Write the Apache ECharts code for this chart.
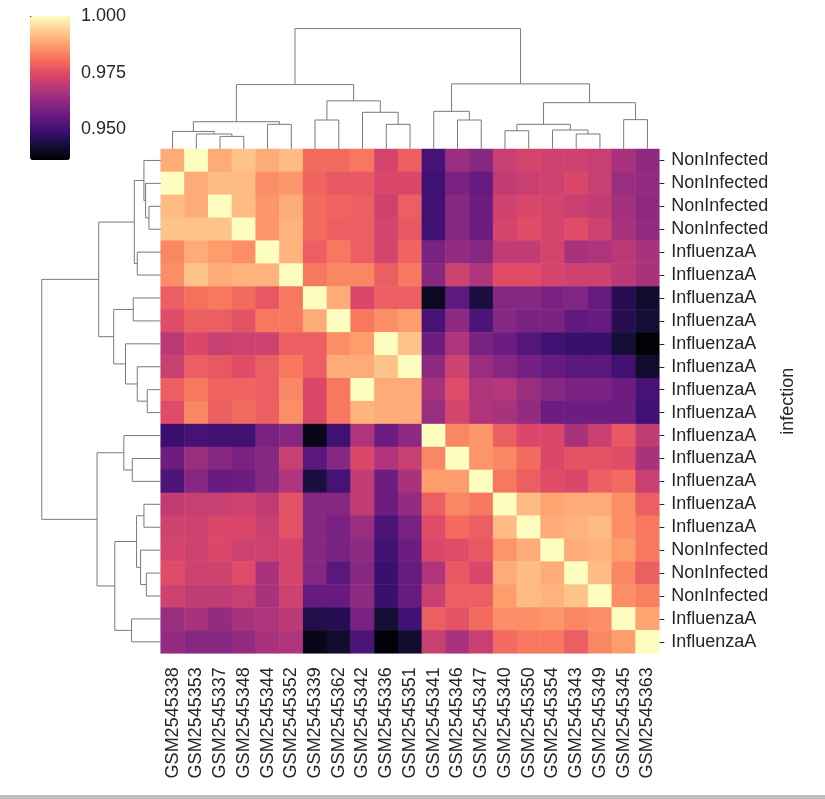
<!DOCTYPE html>
<html><head><meta charset="utf-8">
<script src="https://cdn.jsdelivr.net/npm/echarts@6/dist/echarts.min.js"></script>
<style>html,body{margin:0;padding:0;background:#fff}#c{width:825px;height:799px}</style>
</head><body><div id="c"></div>
<script>
// ---- data ----
const colLabels = ['GSM2545338','GSM2545353','GSM2545337','GSM2545348','GSM2545344','GSM2545352',
  'GSM2545339','GSM2545362','GSM2545342','GSM2545336','GSM2545351','GSM2545341','GSM2545346',
  'GSM2545347','GSM2545340','GSM2545350','GSM2545354','GSM2545343','GSM2545349','GSM2545345','GSM2545363'];
const rowLabels = ['NonInfected','NonInfected','NonInfected','NonInfected',
  'InfluenzaA','InfluenzaA','InfluenzaA','InfluenzaA','InfluenzaA','InfluenzaA','InfluenzaA',
  'InfluenzaA','InfluenzaA','InfluenzaA','InfluenzaA','InfluenzaA','InfluenzaA',
  'NonInfected','NonInfected','NonInfected','InfluenzaA','InfluenzaA'];
const corr = [
 [.989,1.000,.989,.992,.989,.991,.980,.980,.982,.973,.978,.951,.964,.961,.971,.973,.972,.972,.971,.966,.962],
 [1.000,.989,.991,.991,.985,.986,.979,.977,.977,.974,.974,.950,.959,.956,.970,.971,.972,.974,.971,.964,.963],
 [.991,.989,1.000,.991,.986,.989,.980,.979,.978,.972,.978,.950,.961,.957,.972,.974,.973,.971,.970,.965,.962],
 [.992,.992,.992,1.000,.986,.990,.980,.978,.978,.973,.977,.950,.961,.957,.973,.975,.973,.975,.972,.966,.963],
 [.984,.989,.987,.985,1.000,.990,.978,.982,.978,.973,.979,.959,.963,.961,.970,.970,.973,.966,.967,.969,.966],
 [.985,.992,.989,.990,.990,1.000,.982,.984,.984,.978,.982,.961,.972,.967,.975,.975,.973,.972,.972,.969,.966],
 [.978,.981,.982,.980,.977,.982,1.000,.989,.974,.978,.978,.940,.955,.944,.961,.961,.959,.960,.956,.946,.942],
 [.975,.978,.978,.976,.982,.982,.989,1.000,.982,.985,.987,.951,.962,.952,.961,.959,.959,.955,.956,.946,.943],
 [.969,.974,.971,.972,.972,.978,.978,.985,.987,1.000,.992,.957,.967,.959,.957,.953,.950,.949,.949,.943,.937],
 [.971,.978,.977,.975,.978,.982,.978,.989,.989,.992,1.000,.962,.972,.964,.961,.958,.956,.954,.954,.950,.942],
 [.978,.982,.979,.979,.978,.984,.974,.982,1.000,.989,.989,.966,.975,.967,.968,.964,.961,.959,.959,.957,.951],
 [.975,.984,.978,.980,.978,.985,.974,.982,.990,.989,.989,.964,.973,.967,.966,.963,.957,.957,.957,.957,.950],
 [.949,.951,.950,.950,.959,.961,.939,.950,.967,.957,.962,1.000,.984,.986,.978,.974,.974,.966,.971,.977,.970],
 [.957,.964,.961,.959,.961,.971,.954,.961,.974,.967,.971,.984,1.000,.986,.984,.980,.974,.976,.976,.975,.966],
 [.952,.961,.956,.957,.961,.967,.944,.951,.970,.957,.966,.987,.987,1.000,.982,.978,.975,.974,.978,.980,.971],
 [.970,.971,.971,.972,.970,.976,.961,.961,.970,.957,.963,.978,.984,.982,1.000,.991,.988,.989,.989,.985,.978],
 [.972,.972,.974,.974,.971,.976,.961,.959,.964,.952,.959,.975,.980,.978,.991,1.000,.989,.990,.991,.985,.982],
 [.973,.972,.974,.972,.972,.973,.961,.959,.962,.950,.957,.974,.975,.977,.986,.989,1.000,.989,.990,.987,.982],
 [.975,.972,.972,.975,.966,.973,.961,.954,.961,.949,.956,.967,.977,.974,.989,.991,.989,1.000,.991,.984,.978],
 [.972,.970,.970,.971,.966,.972,.956,.956,.962,.949,.956,.971,.978,.978,.987,.991,.990,.992,1.000,.985,.983],
 [.964,.966,.963,.966,.967,.969,.945,.946,.959,.943,.950,.978,.976,.980,.985,.985,.986,.984,.985,1.000,.988],
 [.963,.961,.961,.963,.966,.967,.939,.942,.952,.937,.942,.971,.966,.971,.980,.982,.982,.978,.984,.987,1.000]
];
const vMin = 0.9365, vMax = 1.0;
const cbarTicks = [0.950, 0.975, 1.000];
// linkage: [childA, childB, height]; children < n are leaves (display order), n+k is k-th merge
const colLinkage = [
 [2,3,0.103],[1,21,0.123],[0,22,0.144],[4,5,0.203],[23,24,0.225],[6,7,0.239],[9,10,0.203],
 [8,27,0.303],[26,28,0.398],[25,29,0.533],[12,13,0.239],[11,31,0.311],[17,18,0.123],[16,33,0.156],
 [14,15,0.150],[35,34,0.203],[19,20,0.242],[36,37,0.383],[32,38,0.539],[30,39,0.998]
];
const rowLinkage = [
 [2,3,0.099],[1,22,0.127],[0,23,0.141],[4,5,0.197],[24,25,0.222],[6,7,0.231],[10,11,0.113],
 [9,28,0.197],[8,29,0.296],[27,30,0.395],[26,31,0.521],[13,14,0.239],[12,33,0.310],[15,16,0.141],
 [18,19,0.121],[17,36,0.169],[35,37,0.203],[20,21,0.245],[38,39,0.386],[34,40,0.535],[32,41,1.0]
];
const magma = ['#000004','#140e36','#3b0f70','#641a80','#8c2981','#b73779','#de4968','#f7705c','#fe9f6d','#fecf92','#fcfdbf'];

// ---- build ----
function dendroSegments(linkage, n, vertical) {
  const pos = [], hgt = [];
  for (let i = 0; i < n; i++) { pos.push(i + 0.5); hgt.push(0); }
  const segs = [];
  linkage.forEach(([a, b, h]) => {
    const pts = [[pos[a], hgt[a]], [pos[a], h], [pos[b], h], [pos[b], hgt[b]]];
    segs.push({ coords: vertical ? pts : pts.map(p => [p[1], p[0]]) });
    pos.push((pos[a] + pos[b]) / 2); hgt.push(h);
  });
  return segs;
}
const heatData = [];
corr.forEach((row, r) => row.forEach((v, c) => heatData.push([c, r, v])));

const FONT = 'Liberation Sans, Arial, sans-serif';
const TXT = '#262626';
const FS = 18;
const chart = echarts.init(document.getElementById('c'), null, { renderer: 'canvas' });
chart.setOption({
  animation: false,
  backgroundColor: '#fff',
  textStyle: { fontFamily: FONT },
  grid: [
    { left: 160.7, top: 149, width: 498.6, height: 504.3 },
    { left: 160.7, top: 22.3, width: 498.6, height: 126.5 },
    { left: 35.8, top: 149, width: 124.9, height: 504.3 },
    { left: 30, top: 16, width: 40, height: 144 }
  ],
  xAxis: [
    { gridIndex: 0, type: 'category', data: colLabels, position: 'bottom',
      axisLine: { show: false }, axisTick: { show: false }, splitLine: { show: false },
      axisLabel: { rotate: 90, interval: 0, fontSize: FS, color: TXT, margin: 14, fontFamily: FONT } },
    { gridIndex: 1, type: 'value', min: 0, max: colLabels.length, show: false },
    { gridIndex: 2, type: 'value', min: 0, max: 1.05, inverse: true, show: false },
    { gridIndex: 3, type: 'value', min: 0, max: 1, show: false }
  ],
  yAxis: [
    { gridIndex: 0, type: 'category', data: rowLabels.map((_, i) => String(i)), inverse: true, position: 'right',
      axisLine: { show: false }, splitLine: { show: false },
      axisTick: { show: true, alignWithLabel: true, length: 5, lineStyle: { color: TXT, width: 1 } },
      axisLabel: { interval: 0, formatter: v => rowLabels[+v], fontSize: FS, color: TXT, margin: 12, fontFamily: FONT },
      name: 'infection', nameLocation: 'middle', nameRotate: 90, nameGap: 115,
      nameTextStyle: { fontSize: FS, color: TXT, fontFamily: FONT } },
    { gridIndex: 1, type: 'value', min: 0, max: 1.05, show: false },
    { gridIndex: 2, type: 'value', min: 0, max: rowLabels.length, inverse: true, show: false },
    { gridIndex: 3, type: 'value', min: vMin, max: vMax, position: 'right',
      axisLine: { show: false }, splitLine: { show: false },
      axisTick: { show: true, length: 5, customValues: cbarTicks, lineStyle: { color: TXT, width: 1 } },
      axisLabel: { customValues: cbarTicks, formatter: v => v.toFixed(3), fontSize: FS, color: TXT, margin: 11, fontFamily: FONT } }
  ],
  visualMap: {
    type: 'continuous', min: vMin, max: vMax, seriesIndex: 0, dimension: 2,
    inRange: { color: magma }, calculable: false, hoverLink: false,
    orient: 'vertical', left: 30, top: 16, itemWidth: 40, itemHeight: 144, padding: 0
  },
  series: [
    { type: 'heatmap', xAxisIndex: 0, yAxisIndex: 0, data: heatData, progressive: 0,
      itemStyle: { borderWidth: 0 }, emphasis: { disabled: true } },
    { type: 'lines', coordinateSystem: 'cartesian2d', xAxisIndex: 1, yAxisIndex: 1, polyline: true,
      silent: true, lineStyle: { color: '#7a7a7a', width: 1, opacity: 1 },
      data: dendroSegments(colLinkage, colLabels.length, true) },
    { type: 'lines', coordinateSystem: 'cartesian2d', xAxisIndex: 2, yAxisIndex: 2, polyline: true,
      silent: true, lineStyle: { color: '#7a7a7a', width: 1, opacity: 1 },
      data: dendroSegments(rowLinkage, rowLabels.length, false) }
  ],
  graphic: [
    { type: 'rect', left: 0, top: 795, shape: { width: 825, height: 4 }, style: { fill: '#c0c0c0' }, silent: true }
  ]
});
</script></body></html>
